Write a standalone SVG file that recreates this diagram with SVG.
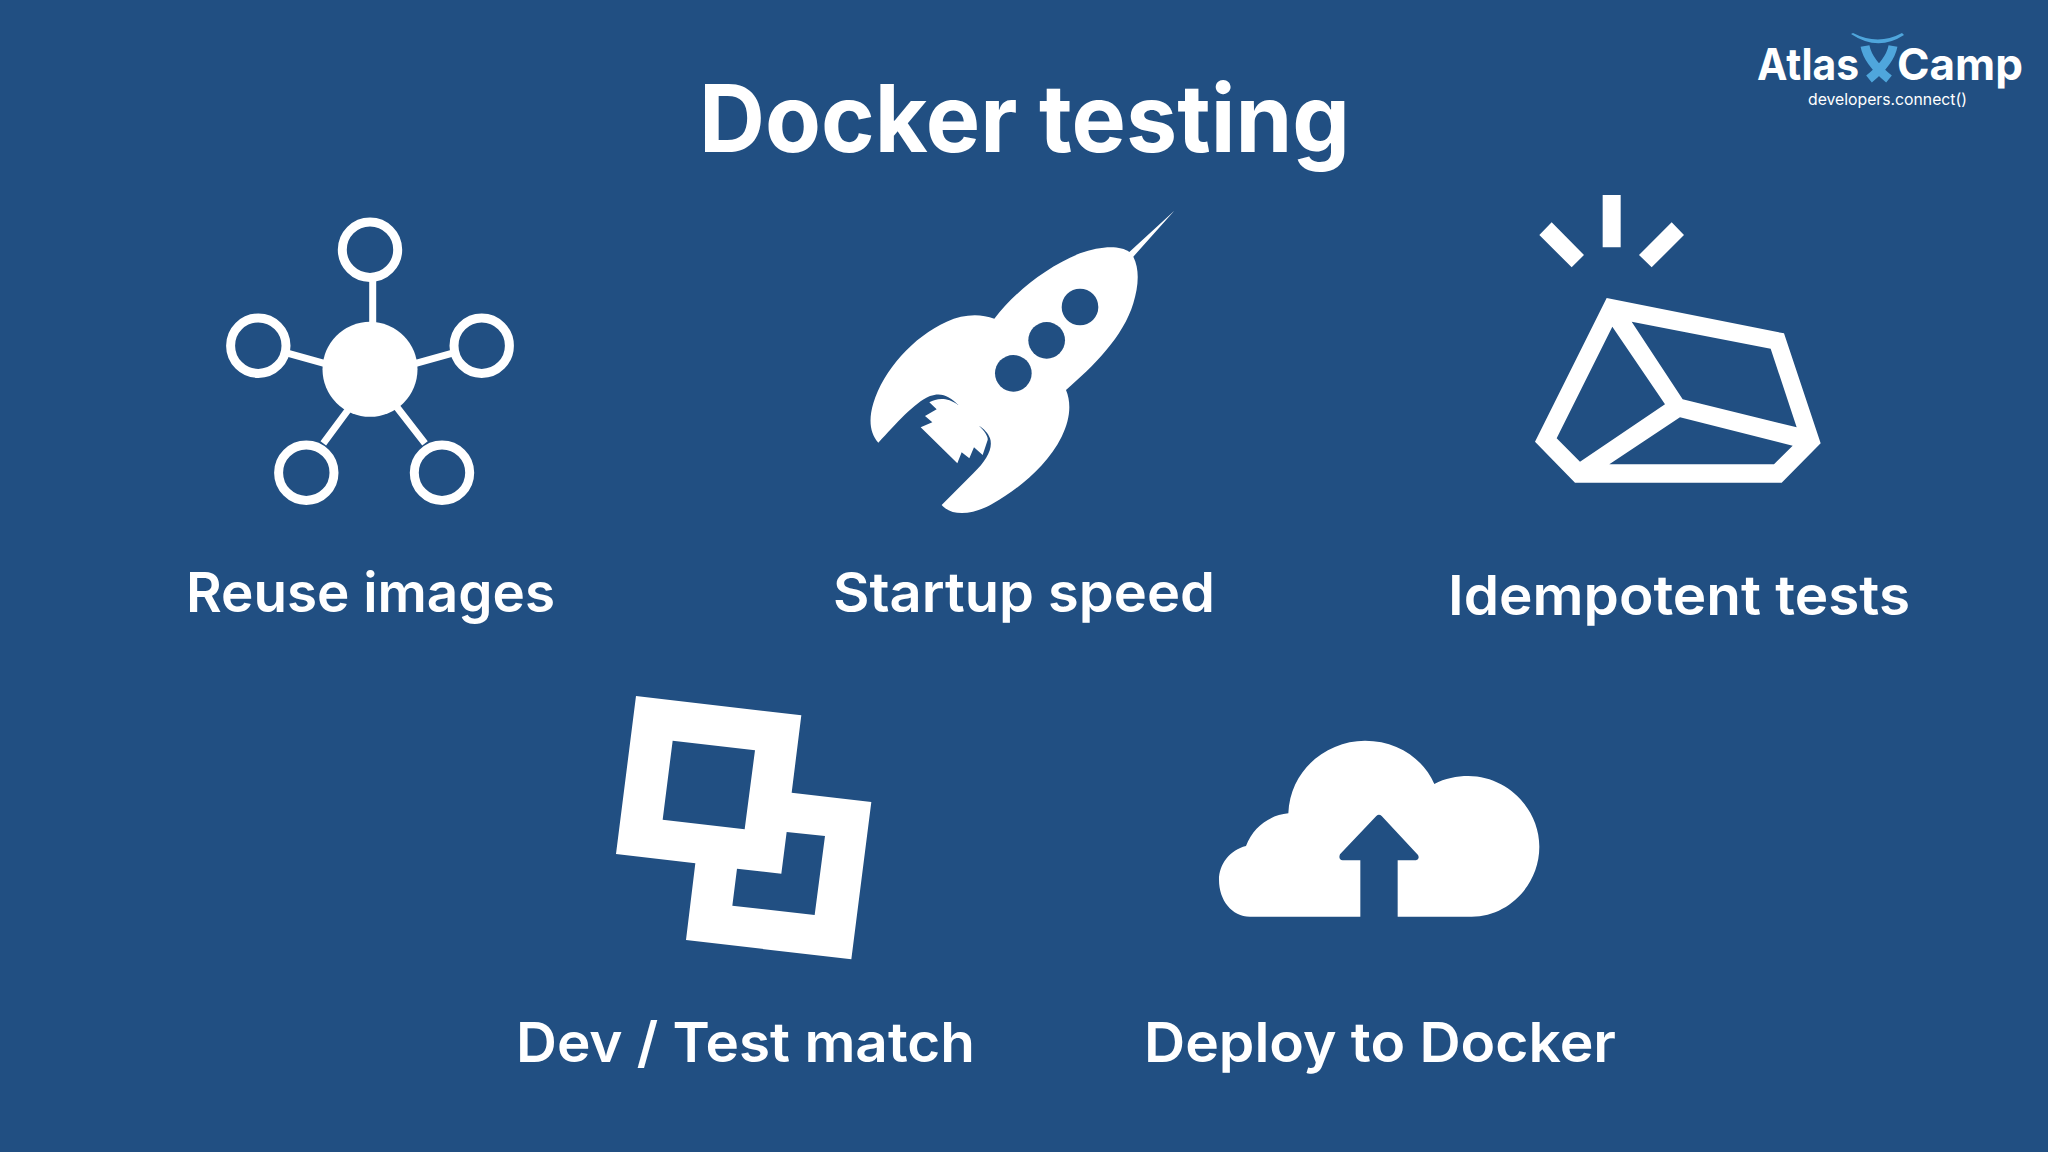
<svg xmlns="http://www.w3.org/2000/svg" width="2048" height="1152" viewBox="0 0 2048 1152">
<style>
.w{fill:#fff}
.b{fill:#214f82}
.t{fill:#fff;font-family:"Inter","Liberation Sans",sans-serif;font-weight:600}
.h{font-weight:700}
.l{font-size:55px;text-anchor:start}
.ring{fill:#214f82;stroke:#fff;stroke-width:9}
.spoke{stroke:#fff;stroke-width:7;fill:none}
.fig{stroke:#4fa6dc;fill:none;stroke-width:9}
</style>
<rect width="2048" height="1152" class="b"/>
<text class="t h" x="699" y="152" font-size="94" textLength="651" lengthAdjust="spacingAndGlyphs">Docker testing</text>
<g id="logo">
<text class="t h" x="1757" y="80" font-size="44" textLength="102" lengthAdjust="spacingAndGlyphs">Atlas</text>
<text class="t h" x="1897" y="80" font-size="44" textLength="126" lengthAdjust="spacingAndGlyphs">Camp</text>
<text x="1808" y="105" font-size="16" fill="#fff" font-family="Inter,'Liberation Sans',sans-serif" textLength="159" lengthAdjust="spacingAndGlyphs">developers.connect()</text>
<path d="M1851,34 L1853,33 Q1878,46 1902,33 L1904,35 Q1878,52 1851,34Z" fill="#4fa6dc"/>
<path class="fig" d="M1865,46 Q1868,62 1889,79 M1893,46 Q1890,62 1869,79"/>
</g>
<g id="reuse-images">
<path class="spoke" d="M372.7,280V325M288.3,353.3L326,363.8M451.7,353.3L414,363.8M323.3,443.3L348,410M425,443.3L396,406"/>
<circle class="w" cx="370" cy="369.3" r="47.5"/>
<circle class="ring" cx="370" cy="249.7" r="27.7"/>
<circle class="ring" cx="258.3" cy="345.7" r="27.7"/>
<circle class="ring" cx="481.7" cy="345.7" r="27.7"/>
<circle class="ring" cx="306.3" cy="472.7" r="27.7"/>
<circle class="ring" cx="442" cy="472.7" r="27.7"/>
<text class="t l" x="186" y="612" textLength="369" lengthAdjust="spacingAndGlyphs">Reuse images</text>
</g>
<g id="startup-speed">
<g transform="translate(840,190) scale(.33333)">
<path class="w" d="M1003,62 L880,200 C900,240 895,290 880,340 C850,440 760,530 678,600 C695,640 690,690 665,740 C620,830 530,900 460,940 C410,970 340,985 305,945 L400,850 C440,810 460,775 450,745 C445,730 430,715 418,708 C435,725 445,740 443,750 L428,795 L402,772 L388,805 L365,787 L352,820 L242,712 L277,697 L255,678 L290,658 L268,637 C290,625 320,620 355,645 C330,620 305,605 270,618 C220,640 170,700 115,758 C90,730 85,690 100,640 C130,540 220,440 320,395 C370,372 420,370 463,386 C520,310 620,230 720,190 C780,168 840,165 868,186Z"/>
<circle class="b" cx="720" cy="351" r="55"/><circle class="b" cx="620" cy="451" r="55"/><circle class="b" cx="520" cy="550" r="55"/>
</g>
<text class="t l" x="833" y="612" textLength="382" lengthAdjust="spacingAndGlyphs">Startup speed</text>
</g>
<g id="idempotent-tests">
<g transform="translate(1510,180) scale(.33333)">
<path class="w" fill-rule="evenodd" d="M290,354L822,460L932,790L815,908L195,908L75,785Z M307,440L465,673L210,845L140,775Z M365,425L782,506L860,742L518,658Z M510,712L848,797L792,853L298,853Z"/>
<path class="w" d="M278,45H332V202H278Z M125,127L222,225L185,262L88,165Z M485,127L522,165L425,262L387,225Z"/>
</g>
<text class="t l" x="1448" y="615" textLength="462" lengthAdjust="spacingAndGlyphs">Idempotent tests</text>
</g>
<g id="dev-test-match">
<g transform="translate(600,680) scale(.33333)">
<path class="w" fill-rule="evenodd" d="M108,48L604,106L575,338L814,366L754,838L258,780L286,550L48,522Z M218,182L465,211L434,448L188,419Z M560,456L675,468L644,705L397,677L411,566L544,581Z"/>
</g>
<text class="t l" x="516" y="1062" textLength="459" lengthAdjust="spacingAndGlyphs">Dev / Test match</text>
</g>
<g id="deploy-to-docker">
<g transform="translate(1200,720) scale(.33333)">
<path class="w" d="M150,590 C95,590 57,540 57,480 C57,432 90,390 138,378 C160,320 210,285 265,280 C270,150 380,62 495,62 C590,62 670,115 703,192 C735,175 770,168 805,168 C920,168 1018,265 1018,380 C1018,495 925,590 815,590 L593,590 L593,421 L648,421 Q660,418 654,405 L545,288 Q537,280 529,288 L420,403 Q414,418 428,421 L481,421 L481,590Z"/>
</g>
<text class="t l" x="1144" y="1062" textLength="472" lengthAdjust="spacingAndGlyphs">Deploy to Docker</text>
</g>
</svg>
